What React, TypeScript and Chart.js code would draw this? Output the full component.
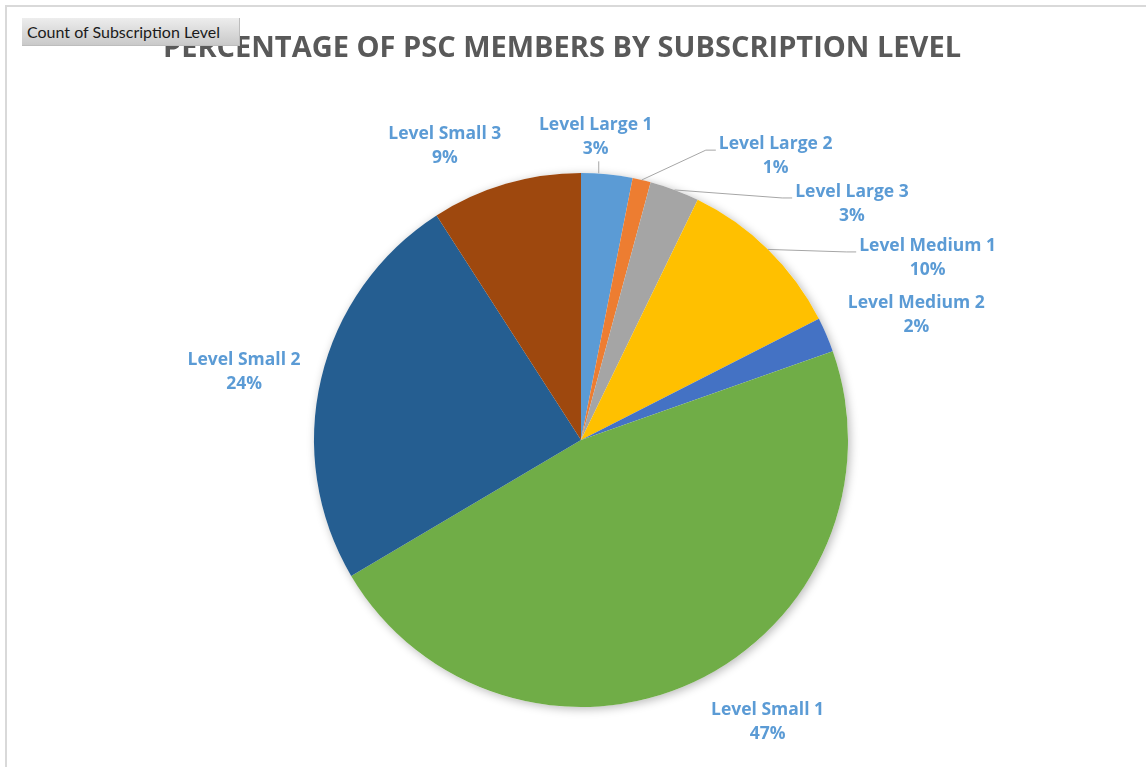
import React, { useEffect, useRef } from "react";
import { Chart, registerables } from "chart.js";

Chart.register(...registerables);

const categories = [
  "Level Large 1",
  "Level Large 2",
  "Level Large 3",
  "Level Medium 1",
  "Level Medium 2",
  "Level Small 1",
  "Level Small 2",
  "Level Small 3",
];
const values = [3.1, 1.1, 3.0, 10.3, 2.1, 46.9, 24.4, 9.1];
const colors = ["#5B9BD5", "#ED7D31", "#A5A5A5", "#FFC000", "#4472C4", "#70AD47", "#255E91", "#9E480E"];
const titleText = "PERCENTAGE OF PSC MEMBERS BY SUBSCRIPTION LEVEL";
const buttonText = "Count of Subscription Level";

// label layout: angular shift (deg) from slice middle and gap (px) beyond the rim
const labelShift = [-2.8, 21.2, 28.3, 17.7, 2.7, -8.6, -1.7, -8.4];
const labelGap = [37, 78, 93, 125, 91, 70, 77, 58];
const leader = [true, true, true, true, false, false, false, false];

const FONT = "Lato, 'Open Sans', sans-serif";
const LABEL_FONT = "'Open Sans', Lato, sans-serif";

const outLabels = {
  id: "outLabels",
  beforeDatasetsDraw(chart: any) {
    const meta = chart.getDatasetMeta(0);
    const arc = meta.data[0];
    if (!arc) return;
    const { x, y, outerRadius } = arc.getProps(["x", "y", "outerRadius"], true);
    const ctx = chart.ctx;
    ctx.save();
    ctx.shadowColor = "rgba(0,0,0,0.28)";
    ctx.shadowBlur = 10;
    ctx.shadowOffsetX = 2;
    ctx.shadowOffsetY = 2;
    ctx.fillStyle = "#ffffff";
    ctx.beginPath();
    ctx.arc(x, y, outerRadius, 0, Math.PI * 2);
    ctx.fill();
    ctx.restore();
  },
  afterDatasetsDraw(chart: any) {
    const meta = chart.getDatasetMeta(0);
    const ctx = chart.ctx;
    const data = chart.data.datasets[0].data as number[];
    const total = data.reduce((a, b) => a + b, 0);
    ctx.save();
    ctx.font = `bold 17.5px ${LABEL_FONT}`;
    ctx.textAlign = "center";
    ctx.textBaseline = "middle";
    meta.data.forEach((el: any, i: number) => {
      const { x, y, startAngle, endAngle, outerRadius } = el.getProps(
        ["x", "y", "startAngle", "endAngle", "outerRadius"],
        true
      );
      const mid = (startAngle + endAngle) / 2;
      const ang = mid + (labelShift[i] * Math.PI) / 180;
      const d = outerRadius + labelGap[i];
      const lx = x + Math.cos(ang) * d;
      const ly = y + Math.sin(ang) * d + 1;
      const name = chart.data.labels[i] as string;
      const pct = Math.round((data[i] / total) * 100) + "%";
      if (leader[i]) {
        const sx = x + Math.cos(mid) * outerRadius;
        const sy = y + Math.sin(mid) * outerRadius;
        ctx.strokeStyle = "#A6A6A6";
        ctx.lineWidth = 1;
        ctx.beginPath();
        if (Math.abs(lx - sx) < 30) {
          ctx.moveTo(lx + 3, sy - 1);
          ctx.lineTo(lx + 3, ly + 24);
        } else {
          const w = ctx.measureText(name).width;
          const ex = lx - w / 2 - 3;
          const ey = ly - 6;
          ctx.moveTo(sx, sy);
          ctx.lineTo(ex - 10, ey);
          ctx.lineTo(ex, ey);
        }
        ctx.stroke();
      }
      ctx.fillStyle = "#5B9BD5";
      ctx.fillText(name, lx, ly - 12);
      ctx.fillText(pct, lx, ly + 12);
    });
    // title
    ctx.font = `bold 29px ${LABEL_FONT}`;
    ctx.fillStyle = "#595959";
    ctx.fillText(titleText, 562, 48.5);
    ctx.restore();
  },
};

export default function App() {
  const ref = useRef<HTMLCanvasElement | null>(null);
  useEffect(() => {
    if (!ref.current) return;
    const chart = new Chart(ref.current, {
      type: "pie",
      data: {
        labels: categories,
        datasets: [
          {
            data: values,
            backgroundColor: colors,
            borderWidth: 0,
          },
        ],
      },
      options: {
        responsive: false,
        animation: false,
        devicePixelRatio: 1,
        layout: { padding: { top: 173, bottom: 60, left: 300, right: 284 } },
        plugins: {
          legend: { display: false },
          tooltip: { enabled: false },
          title: { display: false },
        },
      },
      plugins: [outLabels],
    });
    return () => chart.destroy();
  }, []);

  return (
    <div style={{ position: "fixed", left: 0, top: 0, width: 1146, height: 767, overflow: "hidden", background: "#fff" }}>
      <div
        style={{
          position: "absolute",
          left: 5,
          top: 5,
          width: 1300,
          height: 900,
          borderTop: "2px solid #D9D9D9",
          borderLeft: "2px solid #D9D9D9",
        }}
      />
      <canvas ref={ref} width={1146} height={767} style={{ position: "absolute", left: 0, top: 0 }} />
      <div
        style={{
          position: "absolute",
          left: 22,
          top: 18,
          width: 218,
          height: 28,
          boxSizing: "border-box",
          background: "linear-gradient(#EDEDED, #C9C9C9)",
          borderRight: "1px solid #BDBDBD",
          borderBottom: "1px solid #BDBDBD",
          fontFamily: FONT,
          fontSize: 16,
          color: "#1a1a1a",
          lineHeight: "28px",
          paddingLeft: 5,
          whiteSpace: "nowrap",
        }}
      >
        {buttonText}
      </div>
    </div>
  );
}
